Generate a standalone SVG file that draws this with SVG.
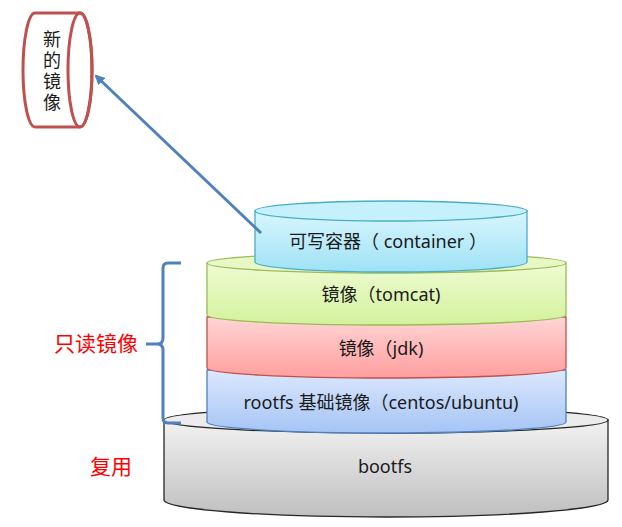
<svg xmlns="http://www.w3.org/2000/svg" width="622" height="527" viewBox="0 0 622 527">
<style>
.lbl{font-family:"Noto Sans","Noto Sans CJK SC",sans-serif;font-size:18px;fill:#1a1a1a;text-anchor:middle}
.red{font-family:"Noto Sans CJK SC",sans-serif;font-size:21px;fill:#ff0000}
.cjk{font-family:"Noto Sans CJK SC",sans-serif;font-size:18px;fill:#1a1a1a;text-anchor:middle;writing-mode:vertical-rl;letter-spacing:3px}
</style>
<defs>
<linearGradient id="gGray" x1="0" y1="0" x2="0" y2="1"><stop offset="0" stop-color="#f2f2f2"/><stop offset="1" stop-color="#bfbfbf"/></linearGradient>
<linearGradient id="gBlue" x1="0" y1="0" x2="0" y2="1"><stop offset="0" stop-color="#dce8fd"/><stop offset="1" stop-color="#a5c4f5"/></linearGradient>
<linearGradient id="gRed" x1="0" y1="0" x2="0" y2="1"><stop offset="0" stop-color="#ffd5d5"/><stop offset="1" stop-color="#ff9e9e"/></linearGradient>
<linearGradient id="gGreen" x1="0" y1="0" x2="0" y2="1"><stop offset="0" stop-color="#effbd3"/><stop offset="1" stop-color="#d3f29c"/></linearGradient>
<linearGradient id="gCyan" x1="0" y1="0" x2="0" y2="1"><stop offset="0" stop-color="#d8f6fd"/><stop offset="1" stop-color="#9fe2f6"/></linearGradient>
<marker id="arr" markerWidth="10" markerHeight="10" refX="8" refY="5" orient="auto" markerUnits="userSpaceOnUse"><path d="M0,0 L10,5 L0,10 Z" fill="#4f81bd"/></marker>
</defs>

<g id="bootfs">
<path d="M164,420 L164,500 A222,17 0 0 0 608,500 L608,420 Z" fill="url(#gGray)" stroke="#262626" stroke-width="1.3"/>
<ellipse cx="386" cy="420" rx="222" ry="13" fill="#ececec" stroke="#262626" stroke-width="1.3"/>
<text class="lbl" x="385" y="473">bootfs</text>
</g>

<g id="rootfs">
<path d="M207,370 L207,422 A179.5,11 0 0 0 566,422 L566,370 Z" fill="url(#gBlue)" stroke="#4f81bd" stroke-width="1.3"/>
<text class="lbl" x="381" y="409">rootfs 基础镜像（centos/ubuntu)</text>
</g>

<g id="jdk">
<path d="M207,317 L207,368 A179.5,10 0 0 0 566,368 L566,317 Z" fill="url(#gRed)" stroke="#c0504d" stroke-width="1.3"/>
<text class="lbl" x="381" y="355">镜像（jdk)</text>
</g>

<g id="tomcat">
<path d="M207,263 L207,315 A179.5,10 0 0 0 566,315 L566,263 Z" fill="url(#gGreen)" stroke="#9bbb59" stroke-width="1.3"/>
<ellipse cx="386.5" cy="263" rx="179.5" ry="10" fill="#e8f8c4" stroke="#9bbb59" stroke-width="1.3"/>
<text class="lbl" x="381" y="301">镜像（tomcat)</text>
</g>

<g id="container">
<path d="M255,211 L255,262 A136,10 0 0 0 527,262 L527,211 Z" fill="url(#gCyan)" stroke="#4bacc6" stroke-width="1.3"/>
<ellipse cx="391" cy="211" rx="136" ry="10" fill="#c4f1fc" stroke="#4bacc6" stroke-width="1.3"/>
<text class="lbl" x="388" y="248">可写容器（ container ）</text>
</g>

<g id="new-image">
<path d="M35,13 L80,13 A12,57 0 0 1 80,127 L35,127 A12,57 0 0 1 35,13 Z" fill="#ffffff" stroke="#c0504d" stroke-width="3"/>
<ellipse cx="80" cy="70" rx="12" ry="57" fill="none" stroke="#c0504d" stroke-width="3"/>
<text class="cjk" x="52" y="72">新的镜像</text>
</g>

<g id="labels">
<text class="red" x="54" y="351">只读镜像</text>
<text class="red" x="90" y="474">复用</text>
</g>

<g id="connectors" fill="none" stroke="#4f81bd" stroke-width="3">
<path d="M261,233 L96,76" marker-end="url(#arr)"/>
<path d="M181,263 L168,263 Q163,263 163,268 L163,338 Q163,344 157,344 L146,344 M157,344 Q163,344 163,350 L163,418 Q163,423 168,423 L181,423"/>
</g>
</svg>
